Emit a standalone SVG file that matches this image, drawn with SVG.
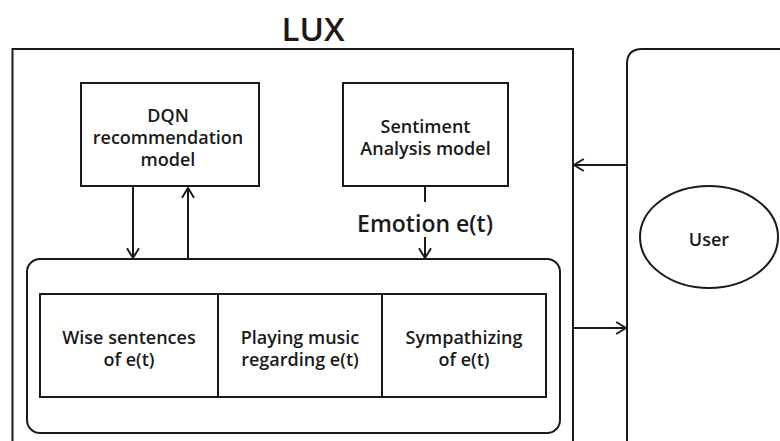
<svg xmlns="http://www.w3.org/2000/svg" width="780" height="441" viewBox="0 0 780 441">
<defs>
<style>
.s{fill:none;stroke:#1a1a1a;stroke-width:2}
.b{fill:#fff;stroke:#1a1a1a;stroke-width:2}
.t{font-family:"Open Sans","Liberation Sans",Arial,sans-serif;font-weight:600;font-size:18px;fill:#1a1a1a;text-anchor:middle}
.c{fill:none;stroke:#1a1a1a;stroke-width:2}
</style>
<marker id="a" viewBox="0 0 10 10" refX="9" refY="5" markerWidth="7.5" markerHeight="7.5" orient="auto" markerUnits="strokeWidth">
<path d="M2.5,1 L9,5 L2.5,9" fill="none" stroke="#1a1a1a" stroke-width="1.3"/>
</marker>
</defs>
<rect width="780" height="441" fill="#fff"/>
<g id="lux">
<path class="s" d="M12.5,445 V49 H573 V445"/>
<text x="313" y="41" font-family="Open Sans,Liberation Sans,Arial,sans-serif" font-weight="600" font-size="33" text-anchor="middle" fill="#1a1a1a">LUX</text>
</g>
<g id="user-panel">
<path class="s" d="M627,445 V64 Q627,49 642,49 H790"/>
</g>
<g id="user">
<ellipse class="b" cx="709" cy="237" rx="69" ry="51"/>
<text class="t" x="709" y="246">User</text>
</g>
<g id="dqn">
<rect class="b" x="81" y="83" width="178" height="103"/>
<text class="t" x="168" y="122">DQN</text>
<text class="t" x="168" y="144">recommendation</text>
<text class="t" x="168" y="166">model</text>
</g>
<g id="sentiment">
<rect class="b" x="343" y="83" width="165" height="103"/>
<text class="t" x="425.5" y="133">Sentiment</text>
<text class="t" x="425.5" y="155">Analysis model</text>
</g>
<g id="actions">
<rect class="b" x="27" y="259" width="533" height="174" rx="13"/>
</g>
<g id="wise">
<rect class="b" x="40" y="294" width="178" height="103"/>
<text class="t" x="129" y="344">Wise sentences</text>
<text class="t" x="129" y="366">of e(t)</text>
</g>
<g id="music">
<rect class="b" x="218" y="294" width="164" height="103"/>
<text class="t" x="300" y="344">Playing music</text>
<text class="t" x="300" y="366">regarding e(t)</text>
</g>
<g id="sympathy">
<rect class="b" x="382" y="294" width="164" height="103"/>
<text class="t" x="464" y="344">Sympathizing</text>
<text class="t" x="464" y="366">of e(t)</text>
</g>
<g id="connectors">
<path class="c" d="M133,186 V258" marker-end="url(#a)"/>
<path class="c" d="M188,259 V188" marker-end="url(#a)"/>
<path class="c" d="M425,186 V202"/>
<text x="425" y="232" font-family="Open Sans,Liberation Sans,Arial,sans-serif" font-weight="600" font-size="23" text-anchor="middle" fill="#1a1a1a">Emotion e(t)</text>
<path class="c" d="M425,237 V258" marker-end="url(#a)"/>
<path class="c" d="M627,165 H574" marker-end="url(#a)"/>
<path class="c" d="M573,328 H626" marker-end="url(#a)"/>
</g>
</svg>
